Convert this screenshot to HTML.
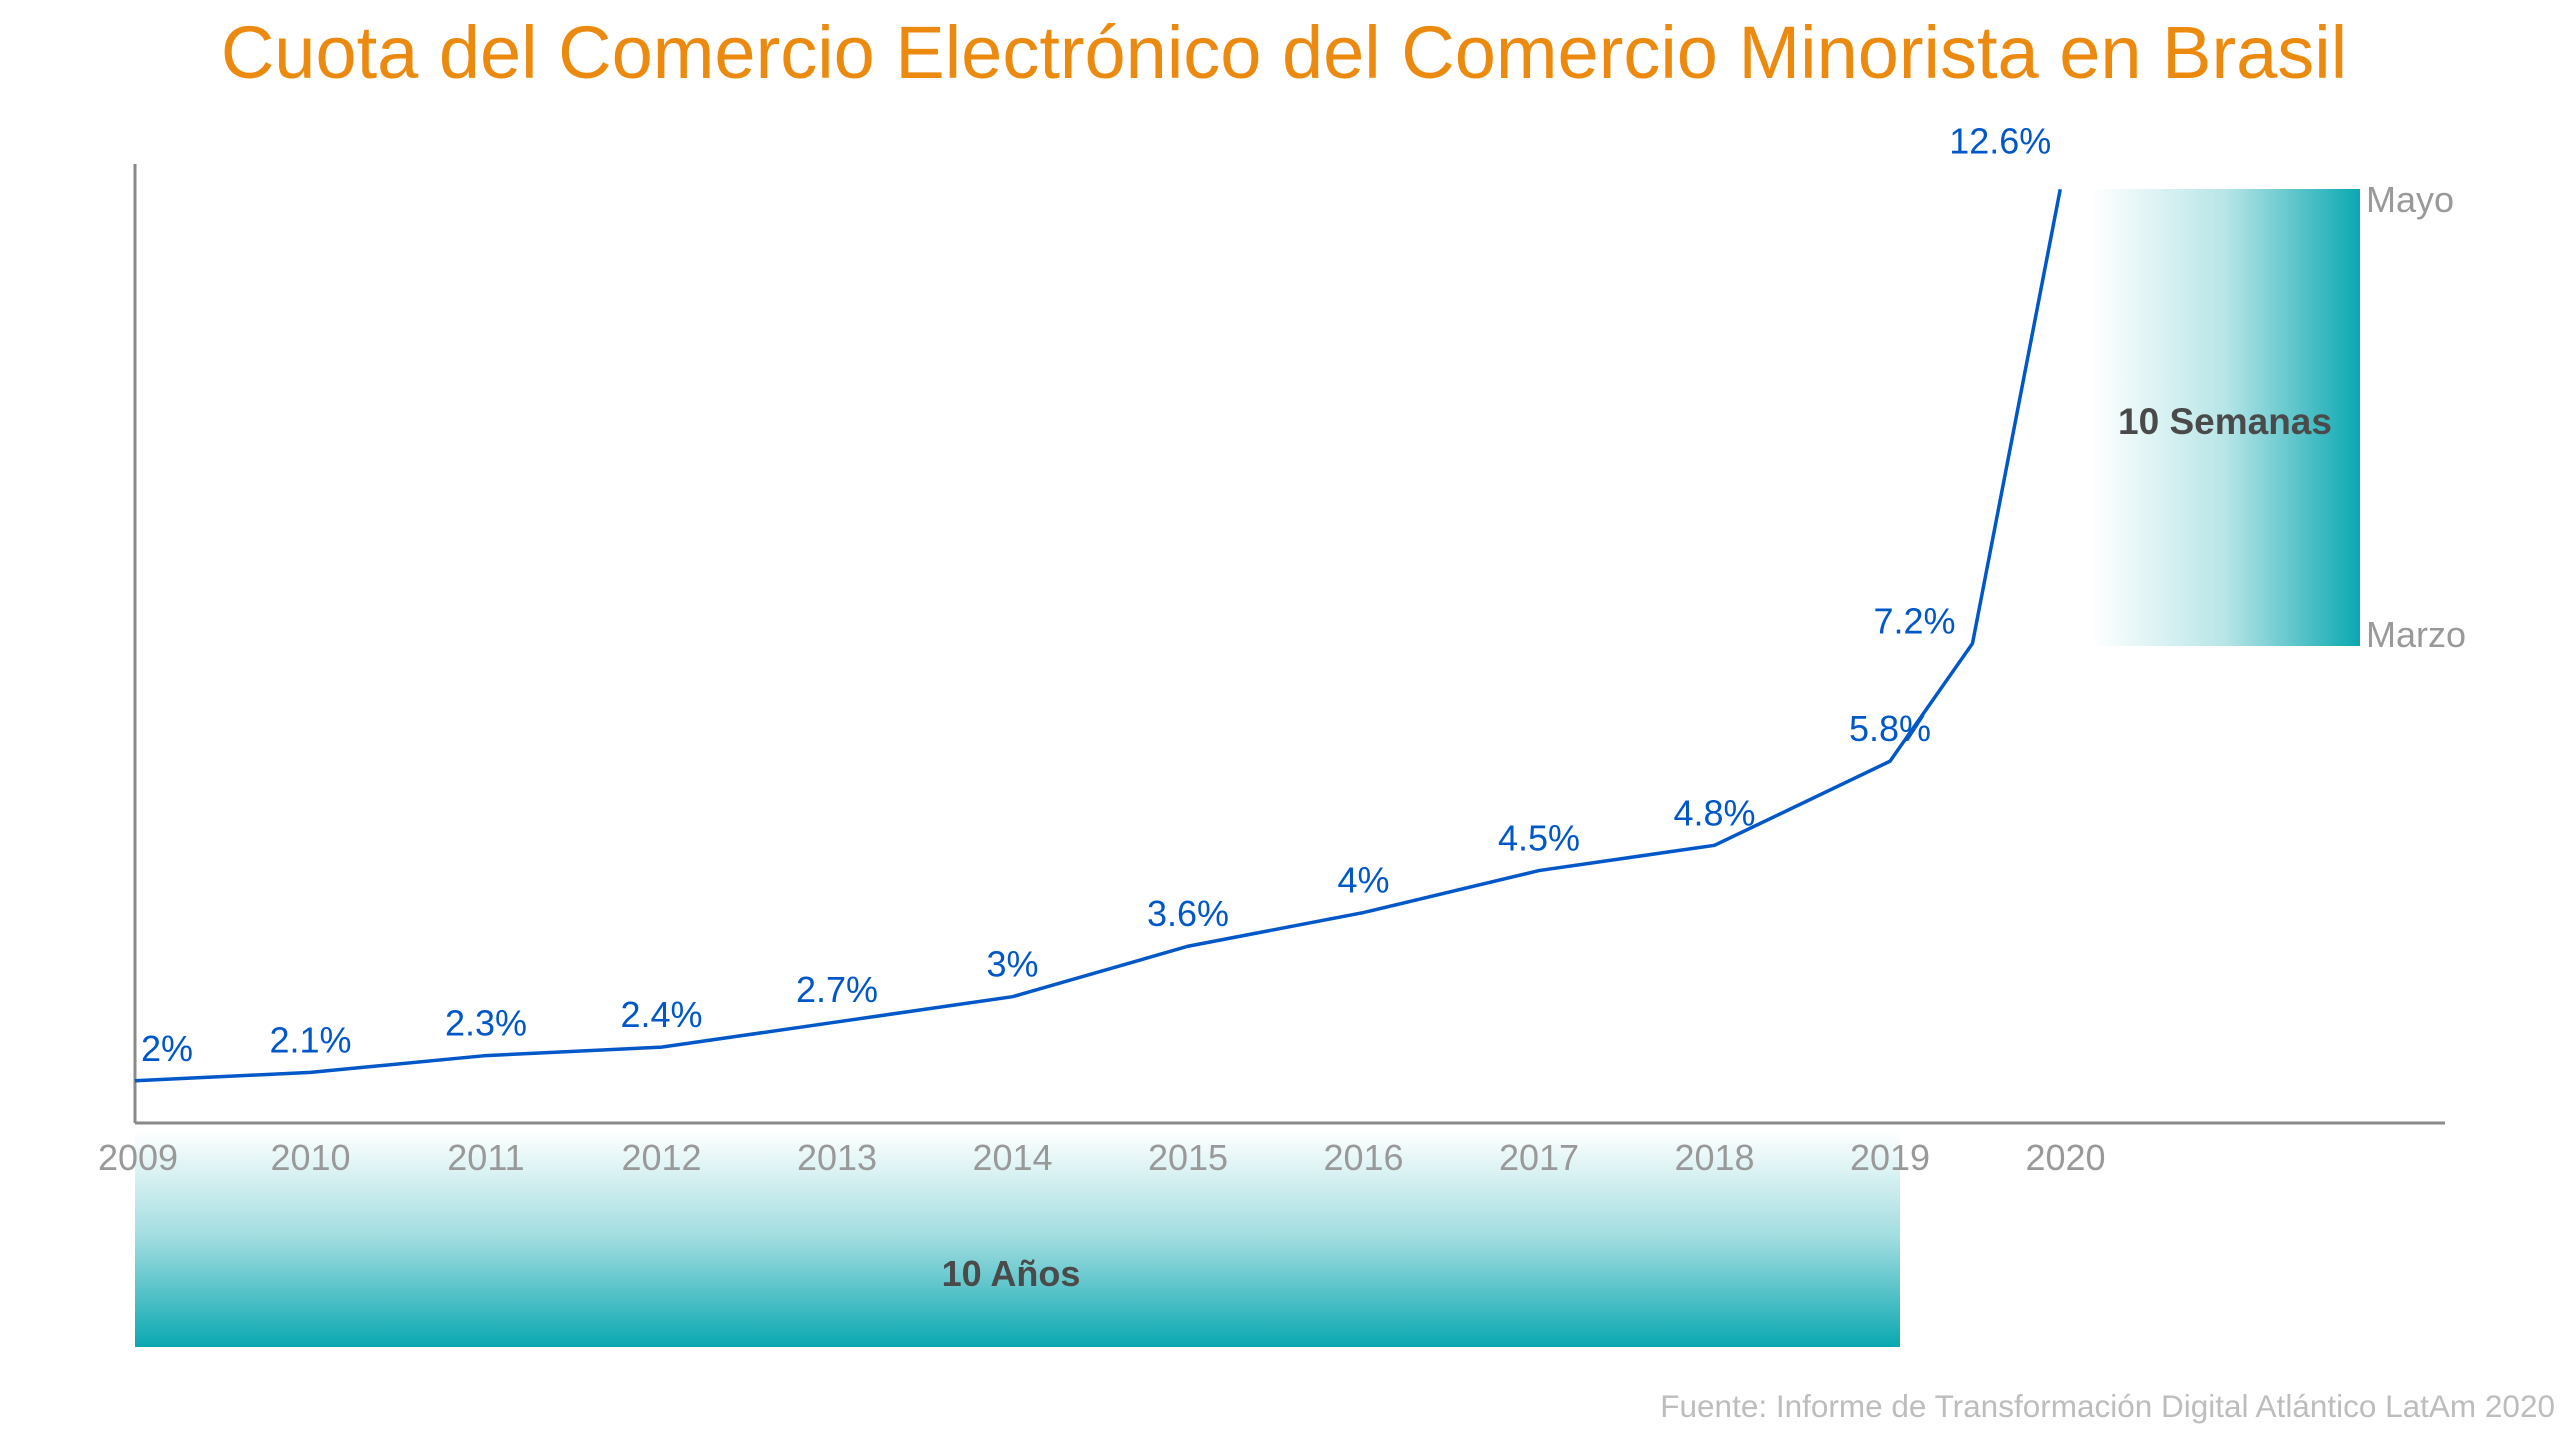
<!DOCTYPE html>
<html><head><meta charset="utf-8">
<style>
html,body{margin:0;padding:0;background:#fff;}
svg{display:block;font-family:"Liberation Sans",sans-serif;}
</style></head>
<body>
<svg id="chart" width="2560" height="1434" viewBox="0 0 2560 1434" xmlns="http://www.w3.org/2000/svg">
<defs>
<linearGradient id="gv" x1="0" y1="0" x2="0" y2="1">
<stop offset="0" stop-color="#ffffff"/><stop offset="0.5" stop-color="#9fdcdf"/><stop offset="1" stop-color="#0aa8b1"/>
</linearGradient>
<linearGradient id="gh" x1="0" y1="0" x2="1" y2="0">
<stop offset="0" stop-color="#ffffff"/><stop offset="0.5" stop-color="#b7e5e7"/><stop offset="1" stop-color="#0aa8b1"/>
</linearGradient>
</defs>
<text x="1284" y="78" text-anchor="middle" font-size="74" fill="#EB8A0E">Cuota del Comercio Electrónico del Comercio Minorista en Brasil</text>
<rect x="135" y="1131" width="1765" height="216" fill="url(#gv)"/>
<text x="1011" y="1286" text-anchor="middle" font-size="36" font-weight="bold" fill="#4a4a4a">10 Años</text>
<rect x="2092" y="189" width="268" height="457" fill="url(#gh)"/>
<text x="2225" y="434" text-anchor="middle" font-size="37" font-weight="bold" fill="#4a4a4a">10 Semanas</text>
<text x="2366" y="212" font-size="36" fill="#999">Mayo</text>
<text x="2366" y="647" font-size="36" fill="#999">Marzo</text>
<line x1="135" y1="164" x2="135" y2="1123" stroke="#8a8a8a" stroke-width="3"/>
<line x1="135" y1="1123" x2="2445" y2="1123" stroke="#8a8a8a" stroke-width="3"/>
<text x="2555" y="1417" text-anchor="end" font-size="31.5" fill="#bdbdbd">Fuente: Informe de Transformación Digital Atlántico LatAm 2020</text>
<g id="marks"></g>
</svg>
<script>
const positions = [0,1,2,3,4,5,6,7,8,9,10,10.47,10.97];
const values = [2,2.1,2.3,2.4,2.7,3,3.6,4,4.5,4.8,5.8,7.2,12.6];
const valueLabels = ["2%","2.1%","2.3%","2.4%","2.7%","3%","3.6%","4%","4.5%","4.8%","5.8%","7.2%","12.6%"];
const years = ["2009","2010","2011","2012","2013","2014","2015","2016","2017","2018","2019","2020"];

const xs = i => 135 + 175.5 * i;
const ys = v => 1249 - 84.1 * v;
const NS = "http://www.w3.org/2000/svg";
const g = document.getElementById('marks');

years.forEach((y, i) => {
  const t = document.createElementNS(NS, 'text');
  
  
  t.setAttribute('x', i === 0 ? xs(i) + 3 : xs(i));
  t.setAttribute('y', 1170);
  t.setAttribute('text-anchor', 'middle');
  t.setAttribute('font-size', '36');
  t.setAttribute('fill', '#999');
  t.textContent = y;
  g.appendChild(t);
});

const pts = positions.map((p, i) => xs(p) + ',' + ys(values[i])).join(' ');
const line = document.createElementNS(NS, 'polyline');


line.setAttribute('points', pts);
line.setAttribute('fill', 'none');
line.setAttribute('stroke', '#0057C8');
line.setAttribute('stroke-width', '3.5');
g.appendChild(line);

positions.forEach((p, i) => {
  const t = document.createElementNS(NS, 'text');
  
  
  let x = xs(p), y = ys(values[i]) - 20, anchor = 'middle';
  if (i === 0) { x += 6; anchor = 'start'; }
  if (i === 11) { x -= 58; y += 10; }
  if (i === 12) { x -= 60; y -= 16; }
  t.setAttribute('x', x);
  t.setAttribute('y', y);
  t.setAttribute('text-anchor', anchor);
  t.setAttribute('font-size', '36');
  t.setAttribute('fill', '#0057C8');
  t.textContent = valueLabels[i];
  g.appendChild(t);
});
</script>
</body></html>
